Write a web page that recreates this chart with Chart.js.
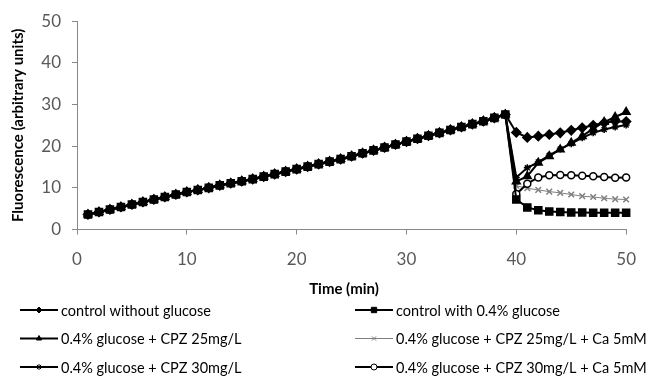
<!DOCTYPE html>
<html>
<head>
<meta charset="utf-8">
<script src="https://cdn.jsdelivr.net/npm/chart.js@4"></script>
<style>
  html, body { margin: 0; padding: 0; background: #fff; }
  #wrap { width: 651px; height: 382px; }
</style>
</head>
<body>
<div id="wrap"><canvas id="myChart" width="651" height="382"></canvas></div>
<script>
// DATA
const minutes = [1, 2, 3, 4, 5, 6, 7, 8, 9, 10, 11, 12, 13, 14, 15, 16, 17, 18, 19, 20,
    21, 22, 23, 24, 25, 26, 27, 28, 29, 30, 31, 32, 33, 34, 35, 36, 37, 38, 39, 40,
    41, 42, 43, 44, 45, 46, 47, 48, 49, 50];
// shared ramp, minutes 1-39 (all series overlap here)
const ramp = [3.6, 4.2, 4.8, 5.4, 6.0, 6.6, 7.2, 7.8, 8.4, 9.0, 9.5, 10.0, 10.6, 11.1, 11.6,
    12.1, 12.7, 13.3, 13.9, 14.5, 15.1, 15.7, 16.3, 16.9, 17.6, 18.3, 19.0, 19.7, 20.4,
    21.1, 21.8, 22.5, 23.2, 23.9, 24.6, 25.3, 26.0, 26.8, 27.6];
// minutes 40-50
const noGlucose = [23.3, 22.1, 22.4, 22.8, 23.2, 23.8, 24.4, 25.0, 25.6, 26.0, 25.9];
const withGlucose = [7.2, 5.3, 4.6, 4.3, 4.2, 4.1, 4.1, 4.0, 4.0, 4.0, 4.0];
const cpz25 = [11.5, 12.8, 16.0, 17.6, 19.2, 20.8, 22.4, 24.2, 25.8, 27.0, 28.2];
const cpz25Ca = [10.5, 9.9, 9.5, 9.1, 8.8, 8.4, 8.0, 7.8, 7.5, 7.3, 7.2];
const cpz30 = [12.5, 14.8, 16.2, 17.8, 19.3, 20.6, 22.0, 23.2, 24.0, 24.6, 25.1];
const cpz30Ca = [8.5, 11.0, 12.5, 13.0, 13.1, 13.0, 12.9, 12.8, 12.6, 12.4, 12.5];
const xTicks = [0, 10, 20, 30, 40, 50];
const yTicks = [0, 10, 20, 30, 40, 50];

function pts(tail) {
    return ramp.concat(tail).map(function (v, i) { return { x: minutes[i], y: v }; });
}

function series(label, tail, style, color, width, radius, fill, order) {
    return {
        label: label,
        data: pts(tail),
        borderColor: color,
        borderWidth: width,
        pointStyle: style,
        pointRadius: radius,
        pointBackgroundColor: fill,
        pointBorderColor: color,
        pointBorderWidth: 1.5,
        tension: 0,
        clip: false,
        order: order,
    };
}

// x axis title + custom legend (2 columns, 3 rows)
const legendPlugin = {
    id: "gridLegend",
    afterDraw: function (chart) {
        const ctx = chart.ctx;
        const cols = [20, 355];
        const rows = [310, 338.5, 367];
        ctx.save();
        ctx.fillStyle = "#000";
        ctx.font = "bold 15px Lato, sans-serif";
        ctx.textAlign = "center";
        ctx.textBaseline = "middle";
        ctx.fillText("Time (min)", 344, 289);
        ctx.textAlign = "left";
        chart.data.datasets.forEach(function (ds, i) {
            const x = cols[i % 2];
            const y = rows[Math.floor(i / 2)];
            ctx.strokeStyle = ds.borderColor;
            ctx.lineWidth = ds.borderWidth;
            ctx.beginPath();
            ctx.moveTo(x, y);
            ctx.lineTo(x + 38, y);
            ctx.stroke();
            ctx.fillStyle = ds.pointBackgroundColor;
            ctx.strokeStyle = ds.pointBorderColor;
            ctx.lineWidth = 1;
            Chart.helpers.drawPoint(ctx, {
                pointStyle: ds.pointStyle,
                radius: ds.pointStyle === "rect" ? 3.8 : 3,
                rotation: 0,
                borderWidth: 1,
            }, x + 19, y);
            ctx.fillStyle = "#000";
            ctx.font = "14.5px Lato, sans-serif";
            ctx.textBaseline = "middle";
            ctx.fillText(ds.label, x + 41, y + 1);
        });
        ctx.restore();
    },
};

document.addEventListener("DOMContentLoaded", function () {
    const ctx1 = document.getElementById("myChart").getContext("2d");
    const myChart = new Chart(ctx1, {
        type: "line",
        data: {
            datasets: [
                series("control without glucose", noGlucose, "rectRot", "#000", 2, 4.5, "#000", 2),
                series("control with 0.4% glucose", withGlucose, "rect", "#000", 2, 5, "#000", 0),
                series("0.4% glucose + CPZ 25mg/L", cpz25, "triangle", "#000", 2, 4.5, "#000", 1),
                series("0.4% glucose + CPZ 25mg/L + Ca 5mM", cpz25Ca, "crossRot", "#7f7f7f", 1, 4, "#7f7f7f", 3),
                series("0.4% glucose + CPZ 30mg/L", cpz30, "star", "#000", 2, 3.5, "#000", 1),
                series("0.4% glucose + CPZ 30mg/L + Ca 5mM", cpz30Ca, "circle", "#000", 2, 3.5, "#fff", 2),
            ],
        },
        options: {
            responsive: false,
            animation: false,
            layout: { padding: { top: 15, right: 15, bottom: 84, left: 0 } },
            plugins: {
                legend: { display: false },
                tooltip: { enabled: false },
            },
            scales: {
                x: {
                    type: "linear",
                    min: 0,
                    max: 50,
                    afterBuildTicks: function (axis) {
                        axis.ticks = xTicks.map(function (v) { return { value: v }; });
                    },
                    afterFit: function (axis) { axis.height = 68.5; },
                    grid: { drawOnChartArea: false, drawTicks: true, tickLength: 5, color: "#888" },
                    border: { color: "#888", width: 1 },
                    ticks: {
                        padding: 15,
                        color: "#595959",
                        font: { family: "Lato, sans-serif", size: 17 },
                    },
                    title: { display: false },
                },
                y: {
                    min: 0,
                    max: 50,
                    afterBuildTicks: function (axis) {
                        axis.ticks = yTicks.map(function (v) { return { value: v }; });
                    },
                    afterFit: function (axis) { axis.width = 77; },
                    grid: { drawOnChartArea: false, drawTicks: true, tickLength: 5, color: "#888" },
                    border: { color: "#888", width: 1 },
                    ticks: {
                        padding: 11,
                        color: "#595959",
                        font: { family: "Lato, sans-serif", size: 17 },
                    },
                    title: {
                        display: true,
                        text: "Fluorescence (arbitrary units)",
                        color: "#000",
                        padding: { top: 9, bottom: 0 },
                        font: { family: "Lato, sans-serif", size: 15, weight: "bold" },
                    },
                },
            },
        },
        plugins: [legendPlugin],
    });
});
</script>
</body>
</html>
